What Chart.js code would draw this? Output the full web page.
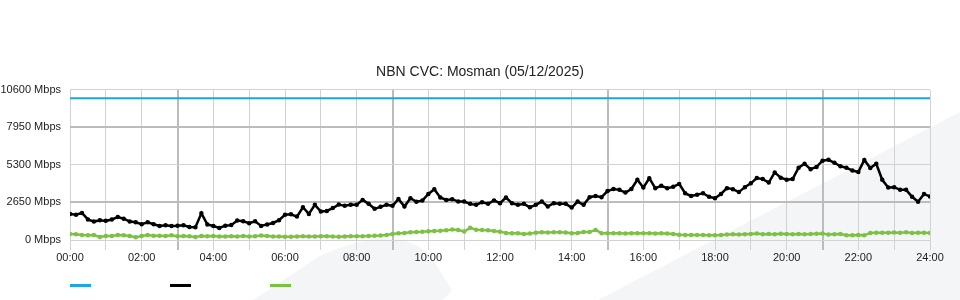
<!DOCTYPE html>
<html>
<head>
<meta charset="utf-8">
<script src="https://cdn.jsdelivr.net/npm/chart.js@4.4.1/dist/chart.umd.min.js"></script>
<style>
    body { margin: 0; background: #fff; }
    #wrap { position: relative; width: 960px; height: 300px; }
    .key { position: absolute; top: 284px; width: 21px; height: 3px; }
</style>
</head>
<body>
<div id="wrap">
    <canvas id="cvcChart"></canvas>
    <div class="key" style="left:70px;background:#1ea5e3"></div>
    <div class="key" style="left:170px;background:#000"></div>
    <div class="key" style="left:270px;background:#7cc242"></div>
</div>
<script>
// samples every 10 minutes, 00:00 -> 24:00 (minutes)
const stepMinutes = 10;

const capacityMbps = [10000, 10000];
const capacityTimes = [0, 1440];

const trafficMbps = [
    1840, 1780, 1910, 1450, 1300, 1400,
    1350, 1450, 1620, 1500, 1300, 1250,
    1120, 1250, 1110, 990, 1040, 990,
    1000, 1040, 920, 900, 1880, 1100,
    990, 850, 1010, 1050, 1370, 1320,
    1180, 1320, 990, 1100, 1200, 1400,
    1780, 1810, 1650, 2310, 1840, 2480,
    2010, 2050, 2250, 2500, 2410, 2480,
    2480, 2830, 2550, 2200, 2340, 2480,
    2410, 2900, 2360, 2950, 2700, 2780,
    3250, 3580, 3000, 2830, 2880, 2710,
    2710, 2550, 2480, 2670, 2550, 2790,
    2600, 3000, 2600, 2480, 2550, 2310,
    2480, 2710, 2360, 2600, 2550, 2550,
    2290, 2710, 2480, 3020, 3100, 3020,
    3450, 3600, 3540, 3350, 3600, 4250,
    3700, 4360, 3660, 3820, 3650, 3750,
    3960, 3300, 3100, 3200, 3300, 3050,
    2950, 3250, 3660, 3590, 3380, 3730,
    4000, 4370, 4300, 4050, 4770, 4400,
    4250, 4300, 5100, 5380, 5000, 5150,
    5600, 5660, 5450, 5200, 5100, 4900,
    4800, 5650, 5080, 5380, 4250, 3700,
    3730, 3540, 3540, 3050, 2700, 3250,
    3070
];

const upstreamMbps = [
    430, 400, 360, 330, 350, 210,
    280, 290, 350, 340, 280, 200,
    280, 350, 300, 300, 290, 330,
    270, 290, 260, 220, 280, 270,
    290, 250, 240, 270, 250, 290,
    240, 260, 310, 280, 240, 250,
    230, 230, 250, 260, 240, 250,
    270, 260, 240, 230, 250, 260,
    260, 260, 290, 300, 320, 350,
    420, 470, 500, 540, 570, 590,
    620, 640, 650, 680, 740, 700,
    600, 860, 720, 700, 690, 640,
    590, 500, 480, 470, 430, 450,
    520, 540, 530, 540, 550, 530,
    480, 500, 560, 560, 710, 480,
    470, 470, 470, 460, 470, 480,
    470, 480, 460, 470, 460, 420,
    370, 360, 350, 350, 350, 340,
    340, 350, 380, 400, 390, 410,
    430, 450, 400, 420, 410, 440,
    420, 400, 430, 410, 420, 440,
    450, 380, 400, 420, 340, 330,
    350, 330, 500, 510, 510, 520,
    530, 510, 540, 500, 520, 510,
    500
];

const yTickStep = 2650;
const yMax = 10600;

function toPoints(values, times) {
    return values.map((v, i) => ({ x: times ? times[i] : i * stepMinutes, y: v }));
}

function hhmm(minutes) {
    const h = Math.round(minutes / 60);
    return (h < 10 ? "0" : "") + h + ":00";
}

// faint watermark shapes behind the chart
const watermark = {
    id: "watermark",
    beforeDraw(chart) {
        const c = chart.ctx;
        c.save();
        c.fillStyle = "#f4f5f7";
        c.beginPath();
        c.moveTo(598, 300);
        c.lineTo(960, 112);
        c.lineTo(960, 300);
        c.closePath();
        c.fill();
        c.beginPath();
        c.moveTo(253, 300);
        c.lineTo(320, 256);
        c.quadraticCurveTo(395, 222, 430, 255);
        c.lineTo(452, 290);
        c.lineTo(443, 300);
        c.closePath();
        c.fill();
        c.restore();
    }
};

const tickFont = { family: "'Liberation Sans', Arial, sans-serif", size: 11 };

function createCvcChart() {
    const ctx = document.getElementById("cvcChart");

    new Chart(ctx, {
        type: "line",
        data: {
            datasets: [
                {
                    label: "Capacity",
                    data: toPoints(capacityMbps, capacityTimes),
                    borderColor: "#1ea5e3",
                    borderWidth: 2,
                    pointRadius: 0
                },
                {
                    label: "Download",
                    data: toPoints(trafficMbps),
                    borderColor: "#000000",
                    backgroundColor: "#000000",
                    borderWidth: 2.5,
                    pointRadius: 1,
                    tension: 0
                },
                {
                    label: "Upload",
                    data: toPoints(upstreamMbps),
                    borderColor: "#7cc242",
                    backgroundColor: "#7cc242",
                    borderWidth: 2.5,
                    pointRadius: 1,
                    tension: 0
                }
            ]
        },
        options: {
            responsive: true,
            maintainAspectRatio: false,
            animation: false,
            events: [],
            layout: { padding: 0 },
            plugins: {
                legend: { display: false },
                tooltip: { enabled: false },
                title: {
                    display: true,
                    text: "NBN CVC: Mosman (05/12/2025)",
                    color: "#222",
                    font: { family: "'Liberation Sans', Arial, sans-serif", size: 14, weight: "normal" },
                    padding: { top: 64, bottom: 9 }
                }
            },
            scales: {
                x: {
                    type: "linear",
                    min: 0,
                    max: 1440,
                    afterFit: s => { s.height = 60; },
                    border: { display: false },
                    grid: {
                        tickLength: 10,
                        color: c => (Math.round(c.tick.value / 60) % 6 === 3 ? "#bcbcbc" : "#d2d2d2"),
                        lineWidth: c => (Math.round(c.tick.value / 60) % 6 === 3 ? 2 : 1)
                    },
                    ticks: {
                        stepSize: 60,
                        autoSkip: false,
                        maxRotation: 0,
                        padding: 1,
                        color: "#222",
                        font: tickFont,
                        callback: v => (v % 120 === 0 ? hhmm(v) : "")
                    }
                },
                y: {
                    min: 0,
                    max: yMax,
                    afterFit: s => { s.width = 70; },
                    border: { display: false },
                    grid: {
                        drawTicks: false,
                        color: c => (Math.round(c.tick.value / yTickStep) % 2 === 1 ? "#bcbcbc" : "#d2d2d2"),
                        lineWidth: c => (Math.round(c.tick.value / yTickStep) % 2 === 1 ? 2 : 1)
                    },
                    ticks: {
                        stepSize: yTickStep,
                        padding: 9,
                        color: "#222",
                        font: tickFont,
                        callback: v => v + " Mbps"
                    }
                },
                // empty spacer on the right so the plot ends at 930px
                yRight: {
                    position: "right",
                    min: 0,
                    max: yMax,
                    afterFit: s => { s.width = 30; },
                    border: { display: false },
                    grid: { display: false },
                    ticks: { display: false }
                }
            }
        },
        plugins: [watermark]
    });
}

document.addEventListener("DOMContentLoaded", createCvcChart);
</script>
</body>
</html>
